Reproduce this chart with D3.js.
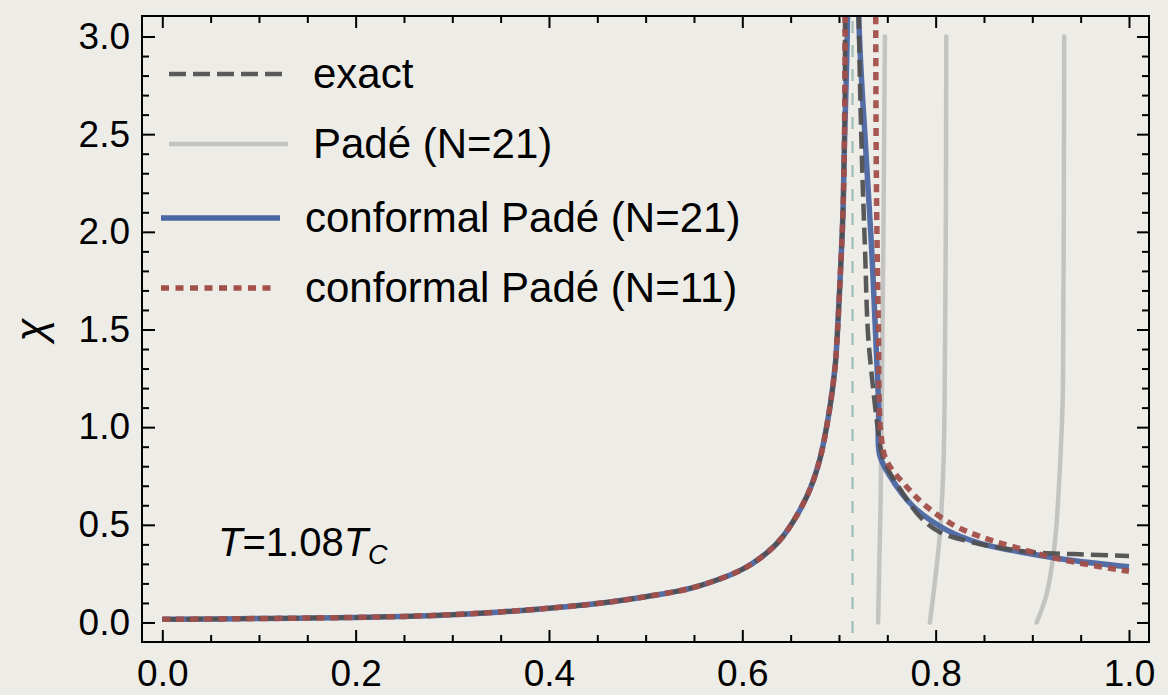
<!DOCTYPE html>
<html>
<head>
<meta charset="utf-8">
<script src="https://cdn.jsdelivr.net/npm/d3@7"></script>
<style>
	body { margin: 0; background: #eeece7; }
	svg text { font-family: "Liberation Sans", Arial, Helvetica, sans-serif; fill: #000; }
</style>
</head>
<body>
<svg id="chart" width="1168" height="695"></svg>
<script>
// x ticks / y ticks
let xMajor = [0, 0.2, 0.4, 0.6, 0.8, 1.0],
	xMinor = [0.05, 0.1, 0.15, 0.25, 0.3, 0.35, 0.45, 0.5, 0.55, 0.65, 0.7, 0.75, 0.85, 0.9, 0.95],
	yMajor = [0, 0.5, 1.0, 1.5, 2.0, 2.5, 3.0],
	yMinor = [0.1, 0.2, 0.3, 0.4, 0.6, 0.7, 0.8, 0.9, 1.1, 1.2, 1.3, 1.4, 1.6, 1.7, 1.8, 1.9,
		2.1, 2.2, 2.3, 2.4, 2.6, 2.7, 2.8, 2.9];

// branch below the peak, shared by all three curves
let leftBranch = [[0, 0.016], [0.1, 0.02], [0.2, 0.026], [0.25, 0.031], [0.3, 0.04], [0.35, 0.054],
	[0.4, 0.073], [0.45, 0.097], [0.5, 0.132], [0.55, 0.18], [0.6, 0.272], [0.625, 0.355], [0.642, 0.44],
	[0.6666, 0.644], [0.68, 0.832], [0.6907, 1.105], [0.696, 1.31], [0.698, 1.45], [0.701, 1.74],
	[0.704, 2.08], [0.7055, 2.42]];

// peak tops go far above the frame and are clipped
let exactRight = [[0.7063, 3.1], [0.707, 5], [0.719, 5], [0.7205, 3.1], [0.7238, 2.36], [0.727, 1.9], [0.73, 1.48],
	[0.7355, 1.19], [0.7407, 0.97], [0.7435, 0.88], [0.749, 0.8], [0.761, 0.7], [0.784, 0.54],
	[0.8045, 0.462], [0.832, 0.418], [0.86, 0.388], [0.901, 0.359], [0.949, 0.349], [1.0, 0.34]];

let conf21Right = [[0.7088, 3.1], [0.7092, 5], [0.7185, 5], [0.7205, 3.1], [0.7277, 2.42], [0.7338, 1.91],
	[0.7383, 1.43], [0.741, 1.105], [0.742, 0.86], [0.7527, 0.75], [0.777, 0.593], [0.811, 0.474],
	[0.846, 0.405], [0.88, 0.368], [0.932, 0.324], [1.0, 0.285]];

let conf11Right = [[0.7063, 3.1], [0.7068, 5], [0.7375, 5], [0.738, 3.1], [0.7385, 2.4], [0.7395, 1.9], [0.741, 1.44],
	[0.7415, 1.15], [0.7435, 0.96], [0.749, 0.83], [0.77, 0.695], [0.7907, 0.593], [0.818, 0.5],
	[0.846, 0.44], [0.88, 0.388], [0.932, 0.32], [1.0, 0.262]];

// spurious Padé poles (x, chi)
let pade1 = [[0.7475, 3.0], [0.746, 2.0], [0.745, 1.5], [0.744, 1.0], [0.743, 0.6], [0.7415, 0.25], [0.7405, 0.0]],
	pade2 = [[0.811, 3.0], [0.8105, 2.0], [0.8098, 1.5], [0.8092, 1.1], [0.808, 0.8], [0.8045, 0.46], [0.799, 0.2], [0.794, 0.0]],
	pade3 = [[0.933, 3.0], [0.9325, 2.0], [0.932, 1.5], [0.9314, 1.14], [0.9286, 0.8], [0.9235, 0.42], [0.915, 0.15], [0.9045, 0.0]];

let criticalX = 0.714;

let legendLabels = ["exact", "Padé (N=21)", "conformal Padé (N=21)", "conformal Padé (N=11)"];

let svg = d3.select("svg#chart"),
	plotLeft = 142, plotRight = 1149, plotTop = 16, plotBottom = 642;

let x = d3.scaleLinear().domain([-0.021, 1.0207]).range([plotLeft, plotRight]),
	y = d3.scaleLinear().domain([-0.1, 3.105]).range([plotBottom, plotTop]);

svg.append("defs").append("clipPath").attr("id", "plotclip")
	.append("rect")
	.attr("x", plotLeft).attr("y", plotTop)
	.attr("width", plotRight - plotLeft).attr("height", plotBottom - plotTop);

// ticks on all four sides, pointing in; pad > 0 means labelled
function tickAxis(axis, vals, size, tx, ty, pad) {
	let g = svg.append("g")
		.attr("transform", "translate(" + tx + "," + ty + ")")
		.call(axis.tickValues(vals).tickSize(-size)
			.tickPadding(pad)
			.tickFormat(pad > 0 ? d3.format(".1f") : function() { return ""; }));
	g.select(".domain").remove();
	g.selectAll(".tick line").attr("stroke", "#000").attr("stroke-width", 2);
	g.selectAll("text").style("font-size", "37px").attr("fill", "#000");
	return g;
}

tickAxis(d3.axisBottom(x), xMajor, 12, 0, plotBottom, 18);
tickAxis(d3.axisBottom(x), xMinor, 7, 0, plotBottom, 0);
tickAxis(d3.axisTop(x), xMajor, 12, 0, plotTop, 0);
tickAxis(d3.axisTop(x), xMinor, 7, 0, plotTop, 0);
tickAxis(d3.axisLeft(y), yMajor, 13, plotLeft, 0, 12);
tickAxis(d3.axisLeft(y), yMinor, 7, plotLeft, 0, 0);
tickAxis(d3.axisRight(y), yMajor, 12, plotRight, 0, 0);
tickAxis(d3.axisRight(y), yMinor, 7, plotRight, 0, 0);

let plot = svg.append("g").attr("clip-path", "url(#plotclip)");

let lineX = d3.line()
	.x(function(d) { return x(d[0]); })
	.y(function(d) { return y(d[1]); })
	.curve(d3.curveCatmullRom.alpha(0.5));

// Padé (N=21)
[pade1, pade2, pade3].forEach(function(p) {
	plot.append("path").datum(p)
		.attr("d", lineX)
		.attr("fill", "none")
		.attr("stroke", "#c3c3c1")
		.attr("stroke-width", 4.5)
		.attr("stroke-linecap", "round");
});

// critical point marker
plot.append("line")
	.attr("x1", x(criticalX)).attr("x2", x(criticalX))
	.attr("y1", y(3.08)).attr("y2", plotBottom)
	.attr("stroke", "#9ebfb6")
	.attr("stroke-width", 2.2)
	.attr("stroke-dasharray", "12,12");

let styles = [
	{ data: leftBranch.concat(conf21Right), color: "#4a66a3", width: 5.5, dash: null },
	{ data: leftBranch.concat(exactRight), color: "#505050", width: 4.5, dash: "17,7" },
	{ data: leftBranch.concat(conf11Right), color: "#a24f49", width: 5.5, dash: "8,6" }
];

styles.forEach(function(s) {
	plot.append("path").datum(s.data)
		.attr("d", lineX)
		.attr("fill", "none")
		.attr("stroke", s.color)
		.attr("stroke-width", s.width)
		.attr("stroke-dasharray", s.dash)
		.attr("stroke-opacity", 0.95);
});

// frame
svg.append("rect")
	.attr("x", plotLeft).attr("y", plotTop)
	.attr("width", plotRight - plotLeft).attr("height", plotBottom - plotTop)
	.attr("fill", "none")
	.attr("stroke", "#000")
	.attr("stroke-width", 2);

// legend
let legendRows = [
	{ x1: 169, x2: 284, y: 74, tx: 313, color: "#5a5a5a", width: 4.5, dash: "17,7" },
	{ x1: 169, x2: 288, y: 144, tx: 313, color: "#c3c3c1", width: 4.5, dash: null },
	{ x1: 161, x2: 280, y: 218, tx: 305, color: "#4a66a3", width: 5.5, dash: null },
	{ x1: 161, x2: 277, y: 288, tx: 305, color: "#a24f49", width: 5.5, dash: "8,6.5" }
];

let legend = svg.append("g").attr("class", "legend");
legendRows.forEach(function(r, i) {
	legend.append("line")
		.attr("x1", r.x1).attr("x2", r.x2)
		.attr("y1", r.y).attr("y2", r.y)
		.attr("stroke", r.color)
		.attr("stroke-width", r.width)
		.attr("stroke-dasharray", r.dash);
	legend.append("text")
		.attr("x", r.tx).attr("y", r.y + 14)
		.style("font-size", "42px")
		.text(legendLabels[i]);
});

// temperature note
let note = svg.append("text")
	.attr("x", 218).attr("y", 556)
	.style("font-size", "40px");
note.append("tspan").attr("font-style", "italic").text("T");
note.append("tspan").text("=1.08");
note.append("tspan").attr("font-style", "italic").text("T");
note.append("tspan").attr("font-style", "italic").attr("dy", 8).style("font-size", "27px").text("C");

// y label
svg.append("text")
	.attr("transform", "translate(45,330) rotate(-90)")
	.attr("text-anchor", "middle")
	.style("font-size", "42px")
	.style("font-style", "italic")
	.text("χ");
</script>
</body>
</html>
